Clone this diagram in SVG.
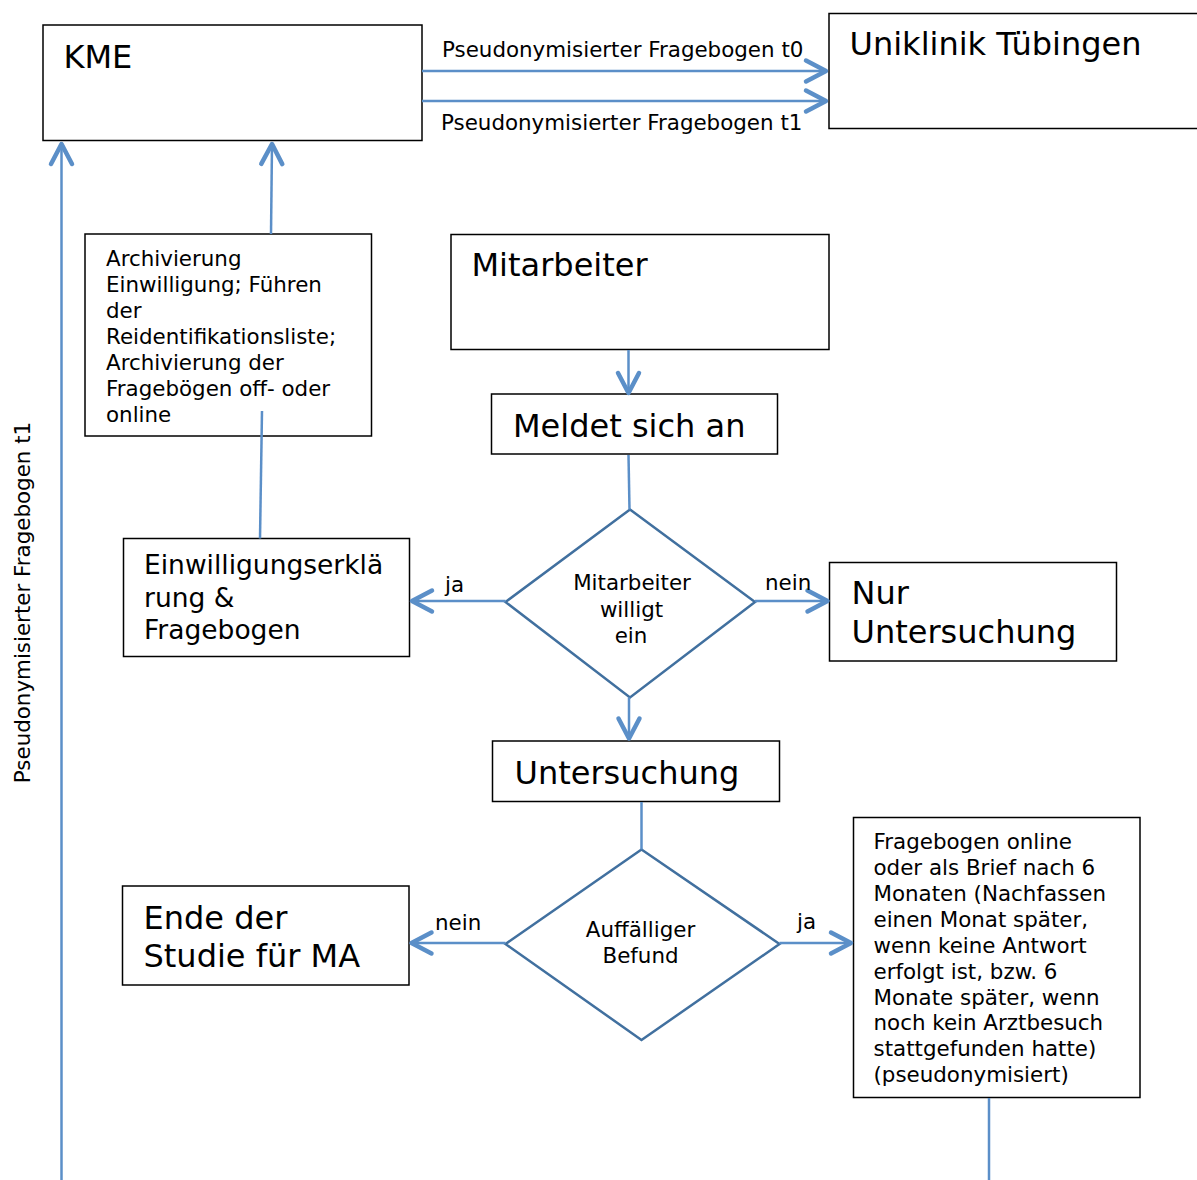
<svg xmlns="http://www.w3.org/2000/svg" width="1197" height="1180" viewBox="0 0 1197 1180">
<style>
text{font-family:"DejaVu Sans","Verdana",sans-serif;fill:#000}
.s{font-size:21.4px}
.b{font-size:32px}
.m{font-size:26.5px}
.box{fill:#fff;stroke:#000;stroke-width:1.5}
.dia{fill:#fff;stroke:#41709F;stroke-width:2.5}
.ln{fill:none;stroke:#5B8FC8;stroke-width:2.5}
.ar{marker-end:url(#chev)}
</style>
<defs>
<marker id="chev" markerUnits="userSpaceOnUse" viewBox="-25 -15 30 30" refX="0" refY="0" markerWidth="30" markerHeight="30" orient="auto" overflow="visible">
<path d="M-20,-10.5 L0,0 L-20,10.5" fill="none" stroke="#5B8FC8" stroke-width="4.5" stroke-linecap="round" stroke-linejoin="round"/>
</marker>
</defs>
<rect width="1197" height="1180" fill="#fff"/>

<g id="kme"><rect class="box" x="43" y="25" width="379" height="115.5"/><text class="b" x="63.5" y="68">KME</text></g>
<g id="uniklinik"><rect class="box" x="829" y="13.5" width="380" height="115"/><text class="b" x="849.5" y="55">Uniklinik Tübingen</text></g>
<g id="archiv"><rect class="box" x="85" y="234" width="286.5" height="202"/>
<text class="s" x="106"><tspan x="106" y="265.5">Archivierung</tspan><tspan x="106" y="291.5">Einwilligung; Führen</tspan><tspan x="106" y="317.5">der</tspan><tspan x="106" y="343.5">Reidentifikationsliste;</tspan><tspan x="106" y="369.5">Archivierung der</tspan><tspan x="106" y="395.5">Fragebögen off- oder</tspan><tspan x="106" y="421.5">online</tspan></text></g>
<g id="mitarbeiter"><rect class="box" x="451" y="234.5" width="378" height="115"/><text class="b" x="471.5" y="275.5">Mitarbeiter</text></g>
<g id="meldet"><rect class="box" x="491.5" y="394" width="286" height="60"/><text class="b" x="513" y="436.5">Meldet sich an</text></g>
<g id="einwilligung"><rect class="box" x="123.5" y="538.5" width="286" height="118"/>
<text class="m"><tspan x="144" y="574">Einwilligungserklä</tspan><tspan x="144" y="607">rung &amp;</tspan><tspan x="144" y="639">Fragebogen</tspan></text></g>
<g id="entscheidung1"><polygon class="dia" points="630,509.5 755,602 630,697.5 505.5,602"/>
<text class="s" text-anchor="middle"><tspan x="632" y="590">Mitarbeiter</tspan><tspan x="631.5" y="616.5">willigt</tspan><tspan x="631" y="643">ein</tspan></text></g>
<g id="nur"><rect class="box" x="829.5" y="562.5" width="287" height="98.5"/>
<text class="b"><tspan x="851.5" y="604">Nur</tspan><tspan x="851.5" y="642.5">Untersuchung</tspan></text></g>
<g id="untersuchung"><rect class="box" x="492.5" y="741" width="287" height="60.5"/><text class="b" x="514.5" y="784">Untersuchung</text></g>
<g id="entscheidung2"><polygon class="dia" points="641.5,849.5 779.5,944 641.5,1040 505.5,944"/>
<text class="s" text-anchor="middle"><tspan x="640.5" y="936.5">Auffälliger</tspan><tspan x="640.5" y="962.5">Befund</tspan></text></g>
<g id="ende"><rect class="box" x="122.5" y="886" width="286.5" height="99"/>
<text class="b"><tspan x="143.5" y="928.5">Ende der</tspan><tspan x="143.5" y="966.5">Studie für MA</tspan></text></g>
<g id="fragebogen"><rect class="box" x="853.5" y="817.5" width="286.5" height="280"/>
<text class="s"><tspan x="873.5" y="849">Fragebogen online</tspan><tspan x="873.5" y="875">oder als Brief nach 6</tspan><tspan x="873.5" y="901">Monaten (Nachfassen</tspan><tspan x="873.5" y="926.5">einen Monat später,</tspan><tspan x="873.5" y="952.5">wenn keine Antwort</tspan><tspan x="873.5" y="978.5">erfolgt ist, bzw. 6</tspan><tspan x="873.5" y="1004.5">Monate später, wenn</tspan><tspan x="873.5" y="1030">noch kein Arztbesuch</tspan><tspan x="873.5" y="1056">stattgefunden hatte)</tspan><tspan x="873.5" y="1082">(pseudonymisiert)</tspan></text></g>

<g id="connectors">
<line class="ln ar" x1="422" y1="71" x2="826" y2="71"/>
<line class="ln ar" x1="422" y1="101" x2="826" y2="101"/>
<line class="ln ar" x1="61.5" y1="1180" x2="61.5" y2="144"/>
<line class="ln ar" x1="271" y1="234" x2="272" y2="144"/>
<line class="ln" x1="262" y1="411" x2="260" y2="538.5"/>
<line class="ln ar" x1="628.5" y1="350" x2="628.5" y2="393"/>
<line class="ln" x1="628.5" y1="455" x2="629.5" y2="509.5"/>
<line class="ln ar" x1="505.5" y1="601" x2="412" y2="601"/>
<line class="ln ar" x1="755" y1="601" x2="827.5" y2="601"/>
<line class="ln ar" x1="629" y1="697.5" x2="629" y2="738.5"/>
<line class="ln" x1="641.5" y1="802" x2="641.5" y2="849.5"/>
<line class="ln ar" x1="505.5" y1="943" x2="411.5" y2="943"/>
<line class="ln ar" x1="779.5" y1="943" x2="851" y2="943"/>
<line class="ln" x1="989" y1="1098" x2="989" y2="1180"/>
<text class="s" x="442" y="56.5">Pseudonymisierter Fragebogen t0</text>
<text class="s" x="441" y="129.5">Pseudonymisierter Fragebogen t1</text>
<text class="s" text-anchor="middle" transform="translate(30,602.5) rotate(-90)">Pseudonymisierter Fragebogen t1</text>
<text class="s" x="445" y="592">ja</text>
<text class="s" x="765" y="590">nein</text>
<text class="s" x="435" y="930">nein</text>
<text class="s" x="797" y="928.5">ja</text>
</g>
</svg>
